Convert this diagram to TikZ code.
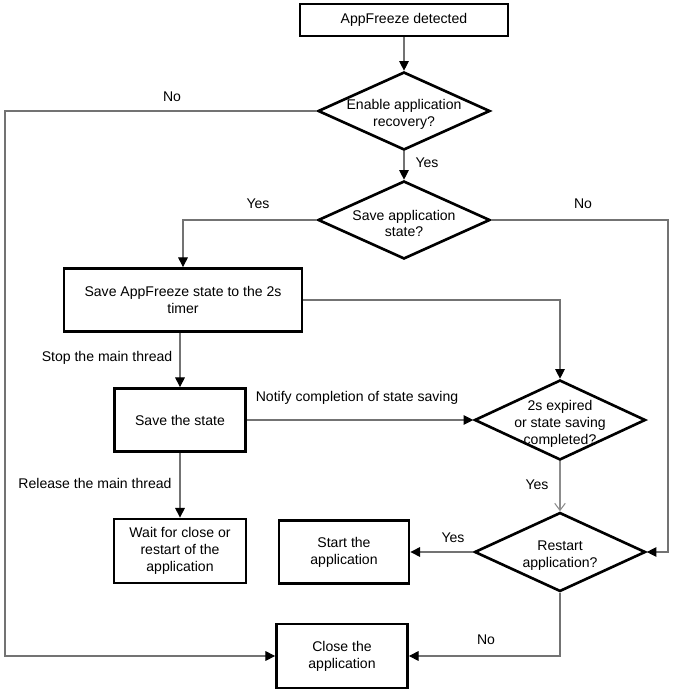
\documentclass[tikz,border=0pt]{standalone}
\usepackage{fontspec}
\setmainfont{Liberation Sans}
\usepackage{tikz}
\usetikzlibrary{shapes.geometric, arrows.meta, positioning}

\begin{document}
\begin{tikzpicture}[x=0.02cm, y=-0.02cm, >={Triangle[length=5.5pt,width=5.5pt,color=black]},
        every node/.style={font=\fontsize{8}{9.6}\selectfont}]
        \tikzstyle{box}=[rectangle, draw=black, line width=1.6pt, align=center, inner sep=2pt]
        \tikzstyle{decision}=[diamond, draw=black, line width=1.5pt, inner sep=0pt, minimum width=3.44cm, minimum height=1.56cm]
        \tikzstyle{dtext}=[align=center, yshift=-2pt]
        \tikzstyle{flow}=[->, draw=black!55, line width=0.6pt]
        \tikzstyle{thinflow}=[-{Straight Barb[length=4pt,width=6pt]}, draw=black!45, line width=0.6pt]
        \useasboundingbox (0,0) rectangle (679,695);
        % boxes and decisions
        \node[box, minimum width=4.16cm, minimum height=0.64cm] (detect) at (404,20) {AppFreeze detected};
        \node[decision, label={[dtext]center:Enable application\\recovery?}] (recovery) at (404,111) {};
        \node[decision, label={[dtext]center:Save application\\state?}] (savestate?) at (404,220) {};
        \node[box, minimum width=4.76cm, minimum height=1.26cm] (saveaf) at (183,300) {Save AppFreeze state to the 2s\\timer};
        \node[box, minimum width=2.62cm, minimum height=1.26cm] (save) at (180,420) {Save the state};
        \node[decision, minimum width=3.42cm, minimum height=1.6cm, label={[dtext]center:2s expired\\or state saving\\completed?}] (expired) at (560,420) {};
        \node[box, minimum width=2.64cm, minimum height=1.28cm] (wait) at (180,551) {Wait for close or\\restart of the\\application};
        \node[box, minimum width=2.6cm, minimum height=1.26cm] (start) at (344,552) {Start the\\application};
        \node[decision, minimum width=3.42cm, minimum height=1.58cm, label={[dtext]center:Restart\\application?}] (restart) at (560,552) {};
        \node[box, minimum width=2.62cm, minimum height=1.28cm] (close) at (342,656) {Close the\\application};
        \coordinate (leftrail) at (5,111);
        \coordinate (rightrail) at (668,220);
        % connectors
        \draw[flow] (detect) -- (recovery);
        \draw[flow] (recovery.west) -- (leftrail) |- (close.west);
        \draw[flow] (recovery.south) -- (savestate?.north);
        \draw[flow] (savestate?.west) -| (saveaf.north);
        \draw[flow] (savestate?.east) -- (rightrail) |- (restart.east);
        \draw[flow] (saveaf.east) -| (expired.north);
        \draw[flow] (save.north |- saveaf.south) -- (save.north);
        \draw[flow] (save.east) -- (expired.west);
        \draw[flow] (save.south) -- (wait.north);
        \draw[thinflow] (expired.south) -- (restart.north);
        \draw[flow] (restart.west) -- (start.east);
        \draw[flow] (restart.south) |- (close.east);
        % labels
        \node (norecovery) at (172,97) {No};
        \node (yesrecovery) at (427,163) {Yes};
        \node (yessave) at (258,204) {Yes};
        \node (nosave) at (583,204) {No};
        \node (stopmain) at (107,358) {Stop the main thread};
        \node (notify) at (357,398) {Notify completion of state saving};
        \node (release) at (95,483) {Release the main thread};
        \node (yesexpired) at (537,485) {Yes};
        \node (yesrestart) at (453,538) {Yes};
        \node (norestart) at (486,640) {No};
\end{tikzpicture}
\end{document}
